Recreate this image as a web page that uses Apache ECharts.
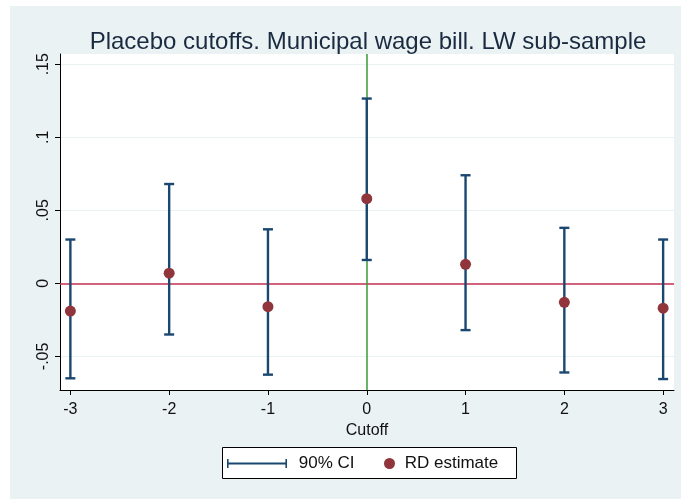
<!DOCTYPE html>
<html>
<head>
<meta charset="utf-8">
<script src="https://cdn.jsdelivr.net/npm/echarts@6/dist/echarts.min.js"></script>
<style>
  html, body { margin: 0; padding: 0; background: #ffffff; }
  #chart { width: 681px; height: 499px; }
</style>
</head>
<body>
<div id="chart"></div>
<script>
// placebo cutoffs and RD estimates with 90% CI
var cutoffs = [-3, -2, -1, 0, 1, 2, 3];
var estimates = [-0.019, 0.007, -0.016, 0.058, 0.013, -0.013, -0.017];
var ciLower = [-0.065, -0.035, -0.0625, 0.016, -0.032, -0.061, -0.0655];
var ciUpper = [0.030, 0.068, 0.037, 0.1265, 0.074, 0.038, 0.030];
var yTicks = [-0.05, 0, 0.05, 0.1, 0.15];
var xTicks = [-3, -2, -1, 0, 1, 2, 3];

var navy = '#1a476f';
var maroon = '#90353b';
var font = 'Liberation Sans, Arial, sans-serif';

function fmtY(v) {
  var s = String(Math.round(v * 100) / 100);
  return s.replace(/^0\./, '.').replace(/^-0\./, '-.');
}

var chart = echarts.init(document.getElementById('chart'));

var ciData = cutoffs.map(function (c, i) { return [c, ciLower[i], ciUpper[i]]; });
var ptData = cutoffs.map(function (c, i) { return [c, estimates[i]]; });

var legendText = { fontFamily: font, fontSize: 17, color: '#111111' };

var option = {
  animation: false,
  backgroundColor: '#ffffff',
  graphic: [
    {
      type: 'rect', z: -10,
      shape: { x: 10, y: 6, width: 671, height: 493 },
      style: { fill: '#eaf2f3' }
    },
    {
      // legend frame
      type: 'rect', z: 0,
      shape: { x: 222.5, y: 447.5, width: 294, height: 31 },
      style: { fill: '#ffffff', stroke: '#000000', lineWidth: 1 }
    }
  ],
  title: {
    text: 'Placebo cutoffs. Municipal wage bill. LW sub-sample',
    left: 363, top: 25, textAlign: 'center',
    textStyle: { fontFamily: font, fontSize: 24, fontWeight: 'normal', color: '#1a2a40' }
  },
  grid: {
    left: 60, right: 7, top: 54, bottom: 109,
    show: true, backgroundColor: '#ffffff', borderWidth: 0
  },
  legend: [
    {
      left: 227, top: 455, padding: 0,
      itemWidth: 64, itemHeight: 9, itemGap: 10,
      itemStyle: { borderWidth: 0 },
      textStyle: legendText,
      formatter: function (n) { return ' ' + n; },
      data: [{
        name: '90% CI',
        icon: 'path://M0,0 L1.6,0 L1.6,3.6 L58.4,3.6 L58.4,0 L60,0 L60,9 L58.4,9 L58.4,5.6 L1.6,5.6 L1.6,9 L0,9 Z',
        itemStyle: { color: navy }
      }]
    },
    {
      left: 384, top: 455, padding: 0,
      itemWidth: 11, itemHeight: 11, itemGap: 10,
      textStyle: legendText,
      formatter: function (n) { return ' ' + n; },
      data: [{ name: 'RD estimate', icon: 'circle', itemStyle: { color: maroon } }]
    }
  ],
  xAxis: {
    type: 'value', min: -3.105, max: 3.11,
    name: 'Cutoff', nameLocation: 'middle', nameGap: 31,
    nameTextStyle: { fontFamily: font, fontSize: 16, color: '#111111' },
    axisLine: { show: true, onZero: false, lineStyle: { color: '#000000', width: 1 } },
    axisTick: { show: true, length: 5, customValues: xTicks, lineStyle: { color: '#000000' } },
    axisLabel: { customValues: xTicks, fontFamily: font, fontSize: 16, color: '#111111', margin: 12 },
    splitLine: { show: false }
  },
  yAxis: {
    type: 'value', min: -0.073, max: 0.157,
    axisLine: { show: true, onZero: false, lineStyle: { color: '#000000', width: 1 } },
    axisTick: { show: true, length: 5, customValues: yTicks, lineStyle: { color: '#000000' } },
    axisLabel: {
      customValues: yTicks, rotate: 90, margin: 8,
      fontFamily: font, fontSize: 16, color: '#111111',
      formatter: fmtY
    },
    splitLine: { show: true, lineStyle: { color: '#eaf2f3', width: 1 } }
  },
  series: [
    {
      // reference lines at zero
      name: 'ref',
      type: 'line',
      data: [],
      z: 1,
      markLine: {
        silent: true, symbol: 'none', label: { show: false }, z: 1,
        data: [
          { yAxis: 0, lineStyle: { color: '#c4304f', width: 1.5, type: 'solid' } },
          { xAxis: 0, lineStyle: { color: '#3a9a3a', width: 1.5, type: 'solid' } }
        ]
      }
    },
    {
      name: '90% CI',
      type: 'custom',
      data: ciData,
      z: 3,
      renderItem: function (params, api) {
        var x = api.value(0);
        var lo = api.coord([x, api.value(1)]);
        var hi = api.coord([x, api.value(2)]);
        var cap = 5;
        var st = { stroke: navy, lineWidth: 2.4 };
        return {
          type: 'group',
          children: [
            { type: 'line', shape: { x1: lo[0], y1: lo[1], x2: hi[0], y2: hi[1] }, style: st },
            { type: 'line', shape: { x1: lo[0] - cap, y1: lo[1], x2: lo[0] + cap, y2: lo[1] }, style: st },
            { type: 'line', shape: { x1: hi[0] - cap, y1: hi[1], x2: hi[0] + cap, y2: hi[1] }, style: st }
          ]
        };
      }
    },
    {
      name: 'RD estimate',
      type: 'scatter',
      data: ptData,
      symbol: 'circle',
      symbolSize: 11,
      z: 4,
      itemStyle: { color: maroon, opacity: 1 }
    }
  ]
};

chart.setOption(option);
</script>
</body>
</html>
